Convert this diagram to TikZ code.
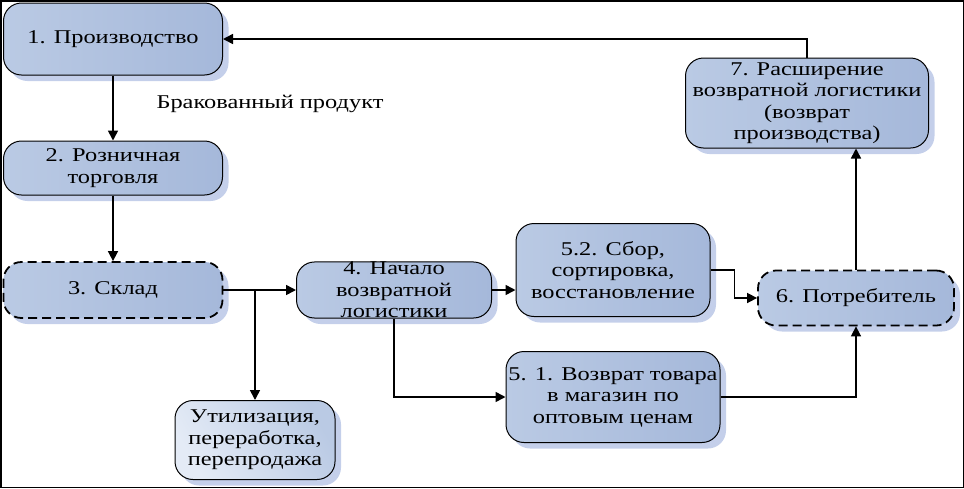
\documentclass[tikz,border=0pt]{standalone}
\usepackage{fontspec}
\setmainfont{Liberation Serif}[FakeStretch=1.25]
\usetikzlibrary{arrows.meta,shadows,calc}
\definecolor{nodefill}{RGB}{186,202,228}
\definecolor{nodedark}{RGB}{165,184,218}
\definecolor{nodelight}{RGB}{228,235,246}
\definecolor{shadowc}{RGB}{196,207,234}
\tikzset{
  box/.style={draw=black, line width=1pt, rounded corners=18pt, inner sep=0pt,
    align=center, left color=nodefill, right color=nodedark,
    font=\fontsize{19.5pt}{21.5pt}\selectfont,
    drop shadow={shadow xshift=6pt, shadow yshift=-6pt, fill=shadowc, opacity=1}},
  dbox/.style={box, line width=1.8pt, dash pattern=on 9pt off 5pt},
  lightbox/.style={box, left color=nodelight, right color=nodefill, shading angle=120},
  arr/.style={line width=1.6pt, -{Triangle[length=10pt,width=10pt]}},
  lbl/.style={font=\fontsize{19.5pt}{21.5pt}\selectfont, inner sep=0pt}
}
\begin{document}
\begin{tikzpicture}[x=1pt,y=-1pt]
\useasboundingbox (0,0) rectangle (964,488);
\draw[line width=1.5pt] (0.75,0.75) rectangle (963.25,487.25);
\node[box, minimum width=219pt, minimum height=72pt] (n1) at (113,39) {1. Производство};
\node[box, minimum width=219pt, minimum height=54pt] (n2) at (113,168) {2. Розничная\\торговля};
\node[dbox, minimum width=219pt, minimum height=56pt] (n3) at (113,290) {3. Склад};
\node[box, minimum width=195pt, minimum height=55pt] (n4) at (394,290) {4. Начало\\возвратной\\логистики};
\node[lightbox, minimum width=160pt, minimum height=79pt] (u) at (255,440) {Утилизация,\\переработка,\\перепродажа};
\node[box, minimum width=194pt, minimum height=93pt] (n52) at (613,270) {5.2. Сбор,\\сортировка,\\восстановление};
\node[box, minimum width=214pt, minimum height=91pt] (n51) at (613,397) {5. 1. Возврат товара\\в магазин по\\оптовым ценам};
\node[dbox, minimum width=196pt, minimum height=55pt] (n6) at (856,298) {6. Потребитель};
\node[box, minimum width=243pt, minimum height=90pt] (n7) at (807,103) {7. Расширение\\возвратной логистики\\(возврат\\производства)};
\node[lbl] (l1) at (270,104) {Бракованный продукт};
\coordinate (br) at (255,290);
\draw[arr] (n7.north) |- (n1.east);
\draw[arr] (n1) -- (n2);
\draw[arr] (n2) -- (n3);
\draw[arr] (n3) -- (n4);
\draw[arr] (br) -- (u);
\draw[arr] (n4.east) -- (n4.east -| n52.west);
\draw[arr] (n4.south) |- (n51.west);
\draw[arr] (n52.east) -- ++(24,0) |- (n6.west);
\draw[arr] (n51.east) -| (n6.south);
\draw[arr] (n6.north) -- (n6.north |- n7.south);
\end{tikzpicture}
\end{document}
